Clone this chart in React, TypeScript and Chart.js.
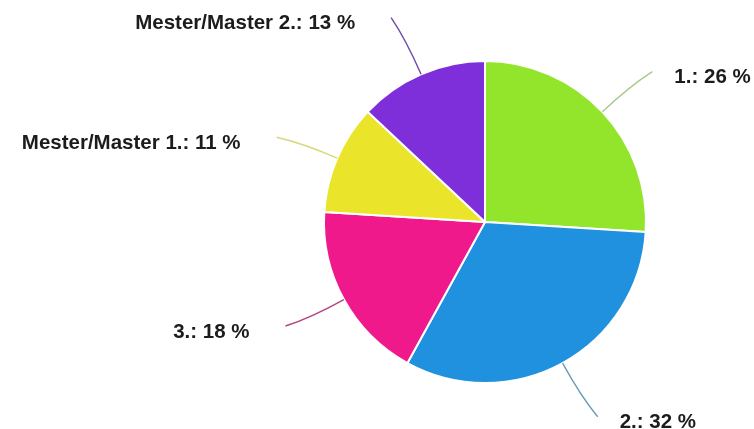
import React, { useEffect, useRef } from "react";
import { Chart, registerables } from "chart.js";

Chart.register(...registerables);

const categories = ["1.", "2.", "3.", "Mester/Master 1.", "Mester/Master 2."];
const shares = [26, 32, 18, 11, 13];
const sliceColors = ["#93E52C", "#1F91DF", "#EF198B", "#EAE52B", "#7E2FD9"];
const lineColors = ["#A6C98A", "#6A9AB8", "#B0457E", "#D8D77A", "#6A4BA8"];

const leaderPlugin = {
  id: "leaderLabels",
  afterDatasetsDraw(chart: any) {
    const ctx = chart.ctx as CanvasRenderingContext2D;
    const meta = chart.getDatasetMeta(0);
    ctx.save();
    meta.data.forEach((arc: any, i: number) => {
      const { x, y, startAngle, endAngle, outerRadius } = arc.getProps(
        ["x", "y", "startAngle", "endAngle", "outerRadius"],
        true
      );
      const mid = (startAngle + endAngle) / 2;
      const r = outerRadius;
      const p0x = x + Math.cos(mid) * r;
      const p0y = y + Math.sin(mid) * r;
      const cx = x + Math.cos(mid) * (r + 38);
      const cy = y + Math.sin(mid) * (r + 38);
      const right = Math.cos(mid) >= 0;
      const lower = Math.sin(mid) >= 0;
      // bend the end of the leader slightly toward the horizontal
      const toward = right === lower ? -1 : 1;
      const endAng = mid + toward * 0.022;
      const ex = x + Math.cos(endAng) * (r + 64);
      const ey = y + Math.sin(endAng) * (r + 64);
      ctx.beginPath();
      ctx.moveTo(p0x, p0y);
      ctx.quadraticCurveTo(cx, cy, ex, ey);
      ctx.strokeStyle = lineColors[i];
      ctx.lineWidth = 1.4;
      ctx.stroke();

      ctx.font = 'bold 20.5px "Liberation Sans", Arial, sans-serif';
      ctx.fillStyle = "#1c1c1c";
      ctx.textBaseline = "middle";
      const text = `${categories[i]}: ${shares[i]} %`;
      if (right) {
        ctx.textAlign = "left";
        ctx.fillText(text, ex + 22, ey + 6);
      } else {
        ctx.textAlign = "right";
        ctx.fillText(text, ex - 36, ey + 6);
      }
    });
    ctx.restore();
  },
};

export default function App() {
  const ref = useRef<HTMLCanvasElement>(null);
  useEffect(() => {
    document.body.style.margin = "0";
    const chart = new Chart(ref.current!, {
      type: "pie",
      data: {
        labels: categories,
        datasets: [
          {
            data: shares,
            backgroundColor: sliceColors,
            borderColor: "#ffffff",
            borderWidth: 2,
          },
        ],
      },
      options: {
        responsive: false,
        animation: false,
        layout: { padding: { top: 60, bottom: 45, left: 323, right: 107 } },
        plugins: {
          legend: { display: false },
          tooltip: { enabled: false },
        },
      },
      plugins: [leaderPlugin],
    });
    return () => chart.destroy();
  }, []);
  return (
    <div style={{ width: 754, height: 429, background: "#fff" }}>
      <canvas ref={ref} width={754} height={429} />
    </div>
  );
}
